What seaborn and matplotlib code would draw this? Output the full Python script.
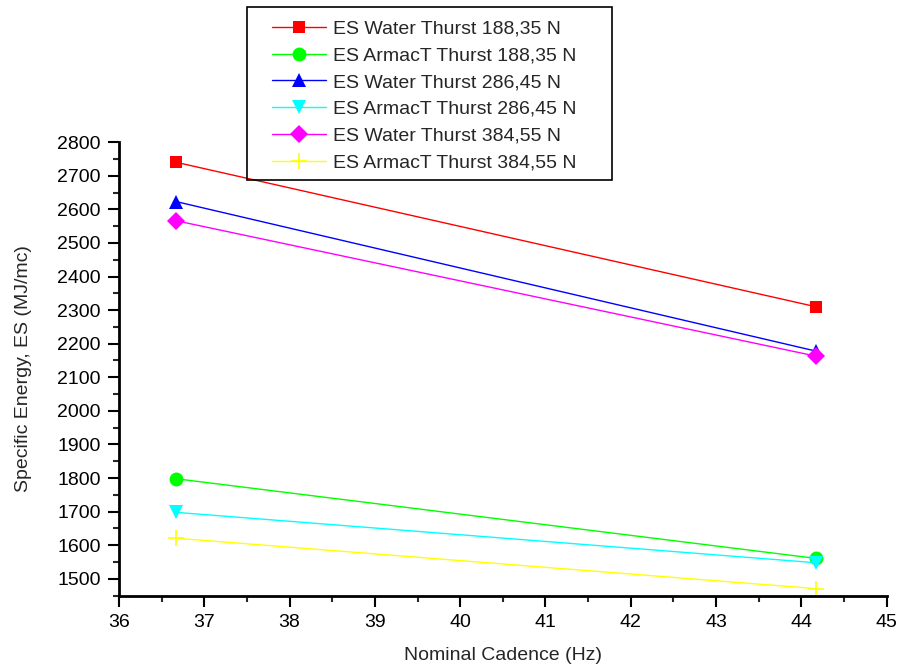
import pandas as pd
import matplotlib.pyplot as plt
import seaborn as sns
from matplotlib.patches import Rectangle
from matplotlib.ticker import MultipleLocator

# Dati
cadenza = [36.67, 44.17]
serie = [
    "ES Water Thurst 188,35 N",
    "ES ArmacT Thurst 188,35 N",
    "ES Water Thurst 286,45 N",
    "ES ArmacT Thurst 286,45 N",
    "ES Water Thurst 384,55 N",
    "ES ArmacT Thurst 384,55 N",
]
water_188 = [2740, 2310]
armact_188 = [1798, 1561]
water_286 = [2623, 2178]
armact_286 = [1698, 1548]
water_384 = [2566, 2163]
armact_384 = [1621, 1471]

valori = [water_188, armact_188, water_286, armact_286, water_384, armact_384]
colori = ["#FF0000", "#00FF00", "#0000FF", "#00FFFF", "#FF00FF", "#FFFF00"]
marcatori = ["s", "o", "^", "v", "D", "+"]
dimensioni = [9, 10, 10, 10, 9, 12]

righe = []
for nome, ys in zip(serie, valori):
    for x, y in zip(cadenza, ys):
        righe.append({"serie": nome, "cadenza": x, "es": y})
df = pd.DataFrame(righe)

sns.set_style("ticks")
plt.rcParams["font.family"] = ["Liberation Sans", "DejaVu Sans"]
plt.rcParams["font.size"] = 14

fig = plt.figure(figsize=(9, 6.66), dpi=100)
ax = fig.add_axes([0.1322, 0.1056, 0.853, 0.681])

for nome, col, mk, ms in zip(serie, colori, marcatori, dimensioni):
    sns.lineplot(data=df[df["serie"] == nome], x="cadenza", y="es", ax=ax,
                 color=col, marker=mk, markersize=ms, linewidth=1,
                 markeredgecolor=col, markeredgewidth=1.2 if mk == "+" else 0,
                 label=nome, legend=False)

ax.set_xlim(36, 45)
ax.set_ylim(1450, 2800)
ax.xaxis.set_major_locator(MultipleLocator(1))
ax.xaxis.set_minor_locator(MultipleLocator(0.5))
ax.yaxis.set_major_locator(MultipleLocator(100))
ax.yaxis.set_minor_locator(MultipleLocator(50))
ax.tick_params(which="major", direction="out", length=8, width=1.5, labelsize=14,
               colors="black", pad=5)
ax.tick_params(which="minor", direction="out", length=4, width=1.5)
for s in ["top", "right"]:
    ax.spines[s].set_visible(False)
for s in ["left", "bottom"]:
    ax.spines[s].set_linewidth(2)
    ax.spines[s].set_color("black")

ax.set_xlabel("Nominal Cadence (Hz)", fontsize=14, labelpad=12)
ax.set_ylabel("Specific Energy, ES (MJ/mc)", fontsize=14, labelpad=18)

# riquadro della legenda disegnato a parte
fig.add_artist(Rectangle((247 / 900, 1 - 180 / 666), 365 / 900, 173 / 666,
                         transform=fig.transFigure, fill=False,
                         edgecolor="black", linewidth=1.2))

handles, labels = ax.get_legend_handles_labels()
fig.legend(handles, labels, loc="upper left", bbox_to_anchor=(272 / 900, 1 - 20 / 666),
           fontsize=14, frameon=False, handlelength=2.8, handletextpad=0.35,
           labelspacing=0.47, borderpad=0, borderaxespad=0)

fig.savefig("out.png", dpi=100)
